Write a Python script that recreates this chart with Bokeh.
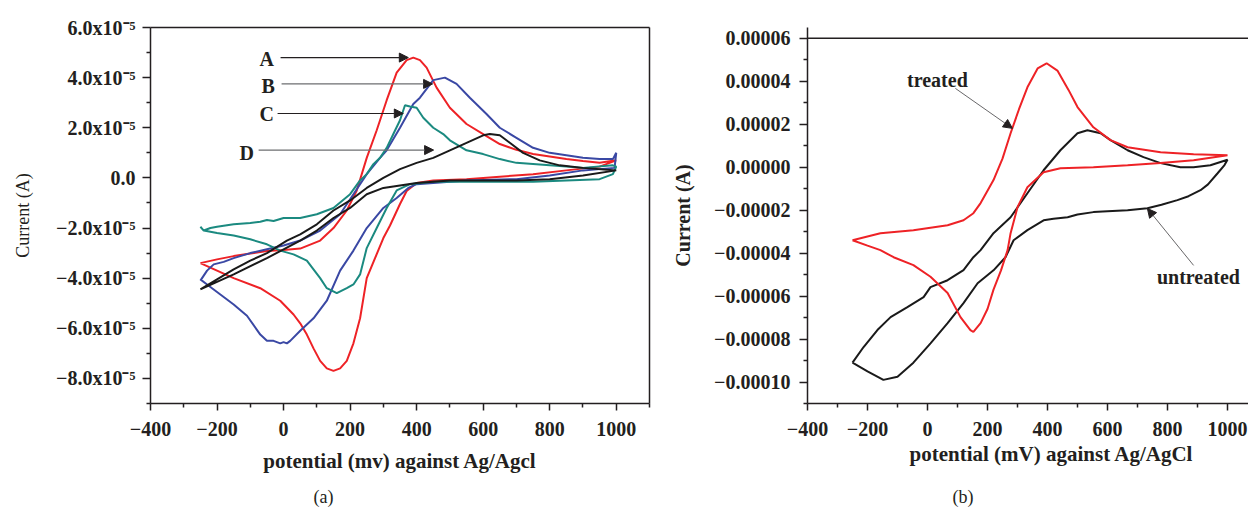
import numpy as np
from bokeh.plotting import figure
from bokeh.models import Range1d, LinearAxis, FixedTicker, Label, Arrow, NormalHead, Title, Span
from bokeh.layouts import row
from bokeh.embed import file_html
from bokeh.resources import INLINE

# ---------------- data (potential in mV, current in units of 1e-5 A) ----------------
UNIT = 1e-5

# panel (a) curve A (red)
a_red_v = [-250, -200, -150, -100, -50, 0, 50, 110, 150, 190, 220, 250, 280, 310, 340, 370, 390, 410, 430, 460,
           500, 550, 600, 650, 700, 750, 800, 850, 900, 950, 1000,
           950, 850, 750, 650, 550, 450, 400, 370, 350, 320, 300, 280, 250, 230, 210, 190, 170, 150, 130,
           110, 90, 70, 50, 30, -10, -70, -150, -250]
a_red_i = [-3.4, -3.25, -3.12, -3.02, -2.92, -2.88, -2.82, -2.5, -2.0, -1.3, -0.5, 0.8, 1.9, 3.1, 4.2, 4.7, 4.8, 4.7, 4.4, 3.6,
           2.8, 2.15, 1.75, 1.35, 1.12, 0.95, 0.85, 0.75, 0.67, 0.6, 0.7,
           0.45, 0.3, 0.15, 0.05, -0.05, -0.1, -0.2, -0.52, -1.04, -1.9, -2.4, -3.04, -4.0, -5.6, -6.6, -7.3, -7.6, -7.7, -7.6,
           -7.3, -6.8, -6.25, -5.8, -5.45, -4.9, -4.4, -4.0, -3.4]

# panel (a) curve B (blue)
a_blue_v = [-250, -230, -210, -180, -150, -100, -50, 0, 50, 110, 170, 210, 250, 290, 310, 350, 390, 410, 450, 485,
            520, 560, 610, 650, 700, 750, 800, 850, 900, 950, 990, 1000,
            995, 950, 900, 800, 700, 550, 450, 400, 375, 340, 300, 250, 210, 170, 130, 90, 50, 20, 10, 0,
            -10, -30, -50, -70, -110, -150, -190, -230, -250]
a_blue_i = [-4.1, -3.7, -3.45, -3.35, -3.2, -3.0, -2.85, -2.7, -2.5, -2.1, -1.45, -0.65, 0.15, 0.8, 1.1, 2.0, 2.95, 3.2, 3.9, 4.0,
            3.75, 3.2, 2.55, 2.0, 1.6, 1.2, 1.0, 0.9, 0.8, 0.75, 0.75, 1.0,
            0.4, 0.35, 0.3, 0.1, -0.05, -0.1, -0.2, -0.25, -0.4, -0.8, -1.2, -2.0, -2.9, -3.7, -4.9, -5.6, -6.1, -6.5, -6.6, -6.55,
            -6.6, -6.5, -6.5, -6.25, -5.5, -5.05, -4.65, -4.25, -4.05]

# panel (a) curve C (teal)
a_teal_v = [-250, -240, -220, -200, -150, -100, -70, -50, -30, 0, 50, 100, 150, 200, 230, 250, 270, 290, 310, 330,
            350, 365, 380, 400, 420, 450, 480, 500, 550, 600, 650, 700, 800, 900, 990, 1000,
            990, 950, 850, 750, 650, 550, 450, 380, 340, 310, 280, 250, 230, 210, 190, 160, 130, 110, 70, 30,
            -10, -50, -100, -150, -200, -240, -250]
a_teal_i = [-1.95, -2.1, -2.0, -1.95, -1.85, -1.8, -1.75, -1.68, -1.72, -1.6, -1.6, -1.45, -1.2, -0.65, -0.1, 0.15, 0.55, 0.8, 1.2, 1.75,
            2.3, 2.9, 2.85, 2.8, 2.4, 2.0, 1.75, 1.5, 1.1, 0.95, 0.75, 0.6, 0.5, 0.4, 0.5, 0.45,
            0.15, -0.05, -0.1, -0.15, -0.15, -0.15, -0.15, -0.25, -0.5, -1.2, -2.0, -2.8, -3.85, -4.25, -4.4, -4.6, -4.4, -4.0, -3.3, -3.05,
            -2.9, -2.65, -2.45, -2.3, -2.2, -2.1, -1.95]

# panel (a) curve D (black)
a_black_v = [-250, -200, -150, -100, -50, 10, 50, 100, 150, 200, 250, 300, 350, 400, 450, 500, 550, 600, 620, 650,
             680, 720, 770, 830, 900, 1000,
             900, 800, 700, 500, 400, 350, 300, 250, 200, 150, 100, 50, 0, -50, -150, -250]
a_black_i = [-4.45, -4.05, -3.65, -3.3, -3.0, -2.5, -2.25, -1.85, -1.3, -0.9, -0.4, 0.0, 0.35, 0.6, 0.8, 1.1, 1.4, 1.7, 1.75, 1.7,
             1.4, 1.0, 0.7, 0.5, 0.4, 0.3,
             0.1, -0.05, -0.1, -0.1, -0.2, -0.3, -0.4, -0.65, -1.2, -1.6, -2.1, -2.5, -2.85, -3.2, -3.85, -4.45]

# panel (b) treated (red)
b_red_v = [-250, -157, -47, 67, 120, 153, 177, 200, 220, 250, 277, 305, 333, 367, 397, 433, 470, 500, 553, 610,
           667, 777, 887, 1000,
           887, 777, 667, 553, 443, 387, 333, 300, 277, 267, 245, 220, 200, 177, 153, 143, 110, 67, 10, -47,
           -113, -157, -200, -250]
b_red_i = [-3.4, -3.07, -2.93, -2.7, -2.47, -2.14, -1.67, -1.1, -0.6, 0.4, 1.58, 2.7, 3.72, 4.6, 4.84, 4.5, 3.6, 2.8, 1.86, 1.26,
           0.93, 0.7, 0.6, 0.56,
           0.33, 0.2, 0.09, 0.0, -0.05, -0.23, -0.93, -1.86, -3.07, -3.86, -4.8, -5.7, -6.6, -7.26, -7.67, -7.58, -6.98, -5.86, -5.1, -4.56,
           -4.19, -3.86, -3.65, -3.4]

# panel (b) untreated (black)
b_blk_v = [-250, -213, -167, -123, -67, -13, 10, 67, 120, 153, 177, 220, 277, 333, 387, 443, 500, 533, 577, 610,
           667, 720, 777, 843, 887, 943, 1000,
           990, 967, 935, 910, 870, 833, 780, 733, 667, 600, 553, 500, 467, 420, 387, 333, 287, 260, 220,
           167, 120, 67, 10, -47, -100, -147, -200, -250]
b_blk_i = [-9.1, -8.37, -7.58, -6.98, -6.51, -6.05, -5.58, -5.26, -4.79, -4.19, -3.86, -3.07, -2.33, -1.21, -0.14, 0.79, 1.58, 1.72, 1.58, 1.26,
           0.79, 0.47, 0.19, 0.0, 0.0, 0.09, 0.35,
           0.1, -0.28, -0.8, -1.07, -1.35, -1.53, -1.75, -1.91, -2.0, -2.05, -2.09, -2.2, -2.33, -2.4, -2.47, -2.93, -3.4, -4.19, -4.8,
           -5.4, -6.33, -7.26, -8.2, -9.1, -9.75, -9.9, -9.5, -9.1]

# ticks and tick labels
x_ticks = [-400, -200, 0, 200, 400, 600, 800, 1000]
x_tick_labels = ["\u2212400", "\u2212200", "0", "200", "400", "600", "800", "1000"]
x_minor = [-300, -100, 100, 300, 500, 700, 900, 1100]

ya_ticks = [-8e-5, -6e-5, -4e-5, -2e-5, 0.0, 2e-5, 4e-5, 6e-5]
ya_tick_labels = ["\u22128.0x10\u207b\u2075", "\u22126.0x10\u207b\u2075", "\u22124.0x10\u207b\u2075",
                  "\u22122.0x10\u207b\u2075", "0.0", "2.0x10\u207b\u2075", "4.0x10\u207b\u2075", "6.0x10\u207b\u2075"]
ya_minor = [-9e-5, -7e-5, -5e-5, -3e-5, -1e-5, 1e-5, 3e-5, 5e-5]

yb_ticks = [-10e-5, -8e-5, -6e-5, -4e-5, -2e-5, 0.0, 2e-5, 4e-5, 6e-5]
yb_tick_labels = ["\u22120.00010", "\u22120.00008", "\u22120.00006", "\u22120.00004", "\u22120.00002",
                  "0.00000", "0.00002", "0.00004", "0.00006"]
yb_minor = [-11e-5, -9e-5, -7e-5, -5e-5, -3e-5, -1e-5, 1e-5, 3e-5, 5e-5]

# ---------------- styling ----------------
FONT = "Liberation Serif"
INK = "#231f20"
RED = "#ee2226"
BLUE = "#3a48a4"
TEAL = "#1b8a80"
BLACK = "#1a1a1a"


def style_axis(ax, ticks, labels, minor, tick_out, standoff):
    ax.ticker = FixedTicker(ticks=ticks, minor_ticks=minor)
    ax.major_label_overrides = dict(zip(ticks, labels))
    ax.axis_line_color = INK
    ax.axis_line_width = 1.5
    ax.major_tick_line_color = INK
    ax.major_tick_line_width = 1.5
    ax.minor_tick_line_color = INK
    ax.minor_tick_line_width = 1.5
    ax.major_tick_in = 0
    ax.major_tick_out = tick_out
    ax.minor_tick_in = 0
    ax.minor_tick_out = 4
    ax.major_label_text_font = FONT
    ax.major_label_text_font_style = "bold"
    ax.major_label_text_font_size = "20px"
    ax.major_label_text_color = INK
    ax.major_label_standoff = standoff
    ax.axis_label_text_font = FONT
    ax.axis_label_text_color = INK


def border_axis(p, side):
    ax = LinearAxis(ticker=FixedTicker(ticks=[]), axis_line_color=INK, axis_line_width=1.5,
                    major_tick_line_color=None, minor_tick_line_color=None,
                    major_label_text_font_size="0px")
    p.add_layout(ax, side)


def text(p, x, y, s, size="20px", style="bold"):
    p.add_layout(Label(x=x, y=y, text=s, text_font=FONT, text_font_size=size, text_font_style=style,
                       text_color=INK, text_align="center", text_baseline="middle"))


def arrow(p, x0, y0, x1, y1, color=INK, width=1.2):
    p.add_layout(Arrow(end=NormalHead(size=9, fill_color=INK, line_color=INK, line_width=1),
                       x_start=x0, y_start=y0, x_end=x1, y_end=y1, line_color=color, line_width=width))


def caption(p, s, offset, size, style, standoff, pad_top=0):
    # padding is (left, right, top, bottom)
    p.add_layout(Title(text=s, align="left", offset=offset, text_font=FONT, text_font_size=size,
                       text_font_style=style, text_color=INK, standoff=standoff,
                       padding=(0, 0, pad_top, 0)), "below")


def scaled(vals):
    return [v * UNIT for v in vals]


# ---------------- panel (a) ----------------
pa = figure(width=660, height=510, x_range=Range1d(-400, 1100), y_range=Range1d(-9e-5, 6e-5),
            output_backend="svg", toolbar_location=None,
            min_border_left=150, min_border_right=11, min_border_top=27, min_border_bottom=107)
pa.outline_line_color = None
pa.grid.visible = False
style_axis(pa.xaxis[0], x_ticks, x_tick_labels, x_minor, 7, 11)
style_axis(pa.yaxis[0], ya_ticks, ya_tick_labels, ya_minor, 8, 7)
pa.xaxis.axis_label = "potential (mv) against Ag/Agcl"
pa.xaxis.axis_label_text_font_size = "21px"
pa.xaxis.axis_label_text_font_style = "bold"
pa.xaxis.axis_label_standoff = 10
pa.yaxis.axis_label = "Current (A)"
pa.yaxis.axis_label_text_font_size = "18px"
pa.yaxis.axis_label_text_font_style = "normal"
pa.yaxis.axis_label_standoff = 20
border_axis(pa, "above")
border_axis(pa, "right")

pa.line(a_red_v, scaled(a_red_i), line_color=RED, line_width=2)
pa.line(a_blue_v, scaled(a_blue_i), line_color=BLUE, line_width=2)
pa.line(a_teal_v, scaled(a_teal_i), line_color=TEAL, line_width=2)
pa.line(a_black_v, scaled(a_black_i), line_color=BLACK, line_width=2)

arrow(pa, -9, 4.8e-5, 375, 4.8e-5, INK)
arrow(pa, -6, 3.75e-5, 448, 3.75e-5, "#6d6e71")
arrow(pa, -18, 2.57e-5, 360, 2.57e-5, INK)
arrow(pa, -75, 1.11e-5, 451, 1.11e-5, "#6d6e71")
text(pa, -51, 4.76e-5, "A")
text(pa, -46, 3.65e-5, "B")
text(pa, -51, 2.53e-5, "C")
text(pa, -111, 1.01e-5, "D")

caption(pa, "(a)", 163, "18px", "normal", 4, 7)

# ---------------- panel (b) ----------------
pb = figure(width=588, height=510, x_range=Range1d(-400, 1070), y_range=Range1d(-11e-5, 6.505e-5),
            output_backend="svg", toolbar_location=None,
            min_border_left=147, min_border_right=0, min_border_top=27, min_border_bottom=107)
pb.outline_line_color = None
pb.grid.visible = False
style_axis(pb.xaxis[0], x_ticks, x_tick_labels, x_minor, 7, 11)
style_axis(pb.yaxis[0], yb_ticks, yb_tick_labels, yb_minor, 8, 9)
pb.yaxis.axis_label = "Current (A)"
pb.yaxis.axis_label_text_font_size = "20px"
pb.yaxis.axis_label_text_font_style = "bold"
pb.yaxis.axis_label_standoff = 17
pb.add_layout(Span(location=6e-5, dimension="width", line_color=INK, line_width=1.5))

pb.line(b_blk_v, scaled(b_blk_i), line_color=BLACK, line_width=2)
pb.line(b_red_v, scaled(b_red_i), line_color=RED, line_width=2)

arrow(pb, 93, 3.67e-5, 283, 1.81e-5, "#414042", 0.8)
arrow(pb, 887, -4.57e-5, 733, -1.92e-5, "#414042", 0.8)
text(pb, 33, 4.04e-5, "treated")
text(pb, 903, -5.12e-5, "untreated")

caption(pb, "potential (mV) against Ag/AgCl", 102, "21px", "bold", 2)
caption(pb, "(b)", 145, "18px", "normal", 4, 16)

layout = row(pa, pb)
open("out.html", "w").write(file_html(layout, INLINE))
